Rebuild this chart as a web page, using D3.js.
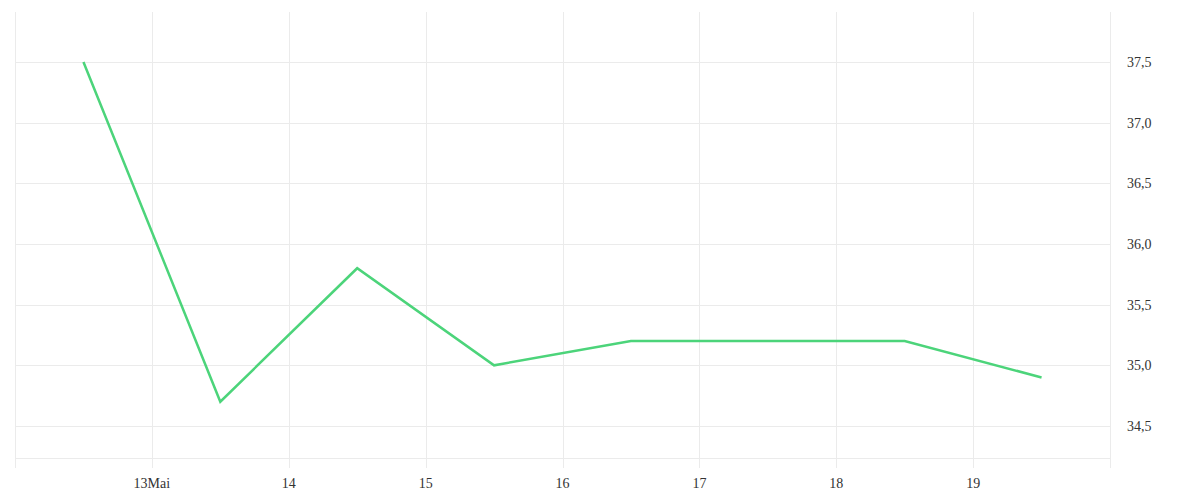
<!DOCTYPE html>
<html>
<head>
<meta charset="utf-8">
<script src="https://cdn.jsdelivr.net/npm/d3@7"></script>
<style>
body{margin:0;background:#fff;}
svg text{font-family:"Liberation Serif","DejaVu Serif",serif;font-size:14px;fill:#333;}
</style>
</head>
<body>
<svg id="chart" width="1200" height="500"></svg>
<script>
const dates = ["2024-05-12T12:00","2024-05-13T12:00","2024-05-14T12:00","2024-05-15T12:00","2024-05-16T12:00","2024-05-17T12:00","2024-05-18T12:00","2024-05-19T12:00"];
const values = [37.5, 34.7, 35.8, 35.0, 35.2, 35.2, 35.2, 34.9];
const xTickDates = ["2024-05-13","2024-05-14","2024-05-15","2024-05-16","2024-05-17","2024-05-18","2024-05-19"];
const xTickLabels = ["13Mai","14","15","16","17","18","19"];
const yTicks = [34.5, 35.0, 35.5, 36.0, 36.5, 37.0, 37.5];
const yTickLabels = ["34,5","35,0","35,5","36,0","36,5","37,0","37,5"];

const parse = d3.isoParse;
const svg = d3.select("#chart");
const pl = 15, pr = 1110, pt = 12, pb = 458;
const x = d3.scaleTime().domain([parse("2024-05-12T00:00"), parse("2024-05-20T00:00")]).range([pl, pr]);
const y = d3.scaleLinear().domain([34.236, 37.912]).range([pb, pt]);

const grid = "#ebebeb";
const vLines = d3.timeDay.range(parse("2024-05-12T00:00"), d3.timeDay.offset(parse("2024-05-20T00:00"), 1));
svg.append("g").selectAll("line").data(vLines).join("line")
  .attr("x1", d => Math.round(x(d)) + 0.5).attr("x2", d => Math.round(x(d)) + 0.5)
  .attr("y1", pt).attr("y2", pb + 10)
  .attr("stroke", grid).attr("stroke-width", 1);
svg.append("g").selectAll("line").data(yTicks.concat([y.domain()[0]])).join("line")
  .attr("x1", pl).attr("x2", pr)
  .attr("y1", d => Math.round(y(d)) + 0.5).attr("y2", d => Math.round(y(d)) + 0.5)
  .attr("stroke", grid).attr("stroke-width", 1);

svg.append("g").selectAll("text").data(xTickDates).join("text")
  .attr("x", d => x(parse(d))).attr("y", 488)
  .attr("text-anchor", "middle")
  .text((d, i) => xTickLabels[i]);
svg.append("g").selectAll("text").data(yTicks).join("text")
  .attr("x", 1127).attr("y", d => y(d) + 5)
  .attr("text-anchor", "start")
  .text((d, i) => yTickLabels[i]);

const line = d3.line().x((d, i) => x(parse(dates[i]))).y(d => y(d));
svg.append("path").datum(values)
  .attr("d", line).attr("fill", "none")
  .attr("stroke", "#4cd47a").attr("stroke-width", 2.5)
  .attr("stroke-linejoin", "miter");
</script>
</body>
</html>
